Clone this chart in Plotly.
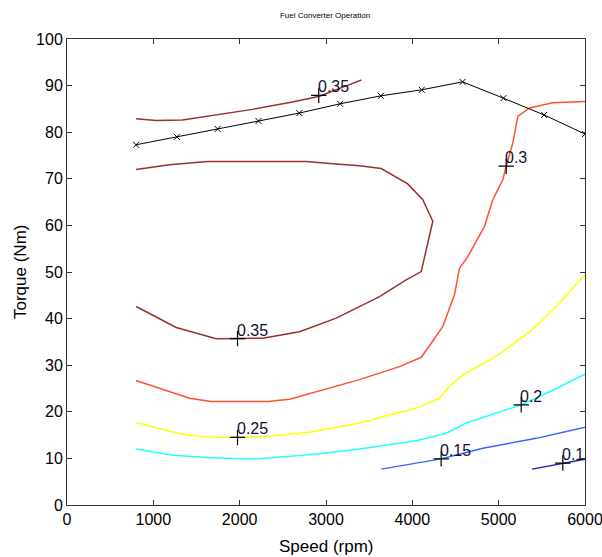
import plotly.graph_objects as go

# Max torque curve
max_speed = [800, 1273, 1745, 2218, 2691, 3164, 3636, 4109, 4582, 5055, 5527, 6000]
max_torque = [77.3, 79.0, 80.7, 82.4, 84.1, 86.1, 87.8, 89.1, 90.8, 87.3, 83.7, 79.6]

# Efficiency contour lines (speed rpm, torque Nm)
c035a_x = [800, 1033, 1337, 1612, 2148, 2611, 2924, 3271, 3410]
c035a_y = [82.9, 82.5, 82.6, 83.4, 84.9, 86.5, 87.7, 90.2, 91.2]

c035b_x = [800, 1187, 1631, 2771, 3040, 3388, 3640, 3947, 4121, 4237, 4103, 3929, 3620, 3118, 2693, 2268, 1728, 1265, 800]
c035b_y = [72.0, 73.0, 73.7, 73.7, 73.3, 72.8, 72.2, 68.9, 65.5, 60.9, 50.1, 48.3, 44.7, 40.1, 37.2, 35.8, 35.7, 38.1, 42.6]

c030_x = [800, 1419, 1670, 2326, 2577, 3388, 3851, 4103, 4219, 4353, 4488, 4546, 4642, 4836, 4932, 5048, 5087, 5164, 5222, 5357, 5627, 6000]
c030_y = [26.7, 22.9, 22.2, 22.2, 22.7, 26.9, 29.7, 31.7, 34.7, 38.3, 45.1, 50.8, 53.3, 59.8, 65.5, 69.8, 72.7, 77.7, 83.4, 85.2, 86.3, 86.6]

c025_x = [800, 1303, 1651, 2307, 2847, 3388, 4045, 4313, 4429, 4585, 4894, 5010, 5395, 5666, 6000]
c025_y = [17.7, 15.3, 14.5, 14.7, 15.7, 17.6, 20.8, 22.9, 25.4, 27.9, 31.1, 32.4, 37.7, 42.6, 49.4]

c020_x = [800, 1225, 1631, 1998, 2230, 2577, 2925, 3388, 4045, 4392, 4624, 5261, 5589, 6000]
c020_y = [12.0, 10.7, 10.2, 9.9, 9.9, 10.4, 11.0, 12.0, 13.8, 15.4, 17.6, 21.5, 24.3, 28.1]

c015_x = [3639, 4334, 4816, 5435, 6000]
c015_y = [7.7, 9.9, 12.2, 14.3, 16.7]

c010_x = [5388, 5743, 6000]
c010_y = [7.7, 9.0, 9.8]

# Contour label positions and texts
label_x = [2916, 1975, 5087, 1975, 5261, 4334, 5743]
label_y = [87.9, 35.7, 72.7, 14.5, 21.5, 9.9, 9.0]
label_text = ["0.35", "0.35", "0.3", "0.25", "0.2", "0.15", "0.1"]

lines = [
    (c035a_x, c035a_y, "#9c2e2e"),
    (c035b_x, c035b_y, "#9c2e2e"),
    (c030_x, c030_y, "#ff5030"),
    (c025_x, c025_y, "#ffff00"),
    (c020_x, c020_y, "#22ffff"),
    (c015_x, c015_y, "#3366ff"),
    (c010_x, c010_y, "#2222aa"),
]

FONT = "Liberation Sans Narrow, Arial Narrow, Liberation Sans, sans-serif"

fig = go.Figure()
for xs, ys, col in lines:
    fig.add_trace(go.Scatter(x=xs, y=ys, mode="lines",
                             line=dict(color=col, width=1.5),
                             showlegend=False, hoverinfo="skip"))

fig.add_trace(go.Scatter(x=max_speed, y=max_torque, mode="lines+markers",
                         line=dict(color="black", width=1),
                         marker=dict(symbol="x-thin", size=6,
                                     line=dict(color="black", width=1)),
                         showlegend=False))

fig.add_trace(go.Scatter(x=label_x, y=label_y, mode="markers",
                         marker=dict(symbol="cross-thin", size=11,
                                     line=dict(color="black", width=1.2)),
                         showlegend=False))

for lx, ly, t in zip(label_x, label_y, label_text):
    fig.add_annotation(x=lx, y=ly, text=t, showarrow=False,
                       xanchor="left", yanchor="bottom", xshift=-3, yshift=-2,
                       font=dict(family=FONT, size=16, color="#111133"))

# axis titles placed as paper annotations (fixed spacing from the axes)
fig.add_annotation(x=0.5, y=0, xref="paper", yref="paper", yshift=-41,
                   text="Speed (rpm)", showarrow=False,
                   xanchor="center", yanchor="middle",
                   font=dict(family=FONT, size=17, color="black"))
fig.add_annotation(x=0, y=0.5, xref="paper", yref="paper", xshift=-47,
                   text="Torque (Nm)", showarrow=False, textangle=-90,
                   xanchor="center", yanchor="middle",
                   font=dict(family=FONT, size=17, color="black"))

axis_common = dict(showgrid=False, zeroline=False, showline=True,
                   linecolor="#333333", linewidth=1, mirror="ticks",
                   ticks="inside", ticklen=5, tickcolor="#333333",
                   automargin=False, ticklabeloverflow="allow")

fig.update_layout(
    width=602, height=557,
    margin=dict(l=67, r=17, t=39, b=52),
    paper_bgcolor="white", plot_bgcolor="white",
    title=dict(text="Fuel Converter Operation", x=0.54, xanchor="center",
               y=0.973, yanchor="middle",
               font=dict(family="Liberation Sans, Arial, sans-serif", size=8,
                         color="black")),
    xaxis=dict(range=[0, 6000], tickvals=[0, 1000, 2000, 3000, 4000, 5000, 6000],
               tickfont=dict(family=FONT, size=16, color="black"),
               **axis_common),
    yaxis=dict(range=[0, 100], tickvals=list(range(0, 101, 10)),
               tickfont=dict(family=FONT, size=16, color="black"),
               **axis_common),
)

fig.write_html("out.html", config={"displayModeBar": False},
               post_script="document.body.style.margin='0';"
                           "document.body.style.overflow='hidden';")
